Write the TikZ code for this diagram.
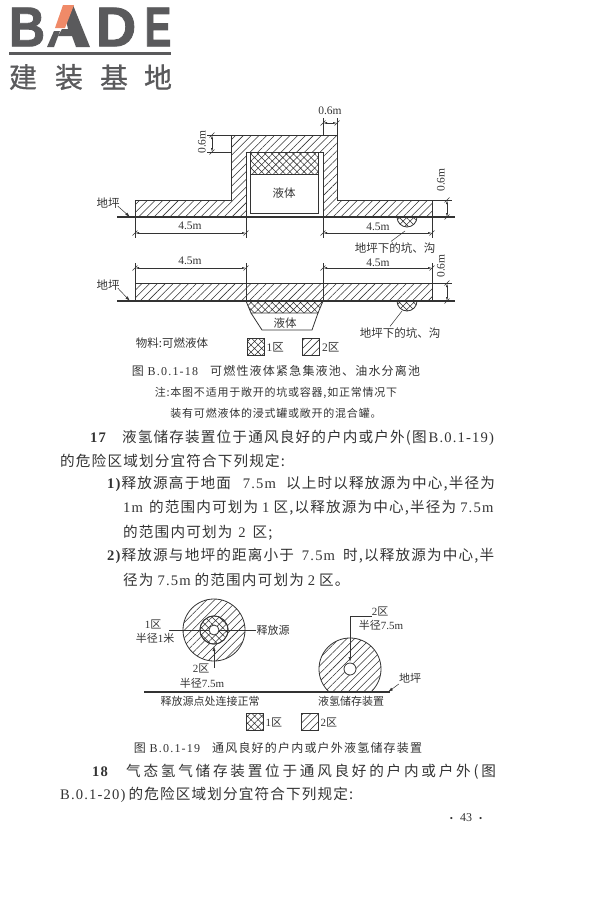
\documentclass[tikz,border=0pt]{standalone}
\usepackage{fontspec}
\usepackage{xcolor}
\setmainfont{Liberation Serif}
\newfontfamily\cjk{Noto Sans CJK SC}
\newfontfamily\cjkbody{Noto Sans CJK SC}[LetterSpace=8]
\newfontfamily\cjkwide{Noto Sans CJK SC}[LetterSpace=19]
\newfontfamily\cjkcap{Noto Sans CJK SC}[LetterSpace=10]
\newfontfamily\cjknote{Noto Sans CJK SC}[LetterSpace=7]
\newfontfamily\latbody{Liberation Serif}[LetterSpace=8]
\newfontfamily\latcap{Liberation Serif}[LetterSpace=10]
\newfontfamily\logofont{Liberation Sans Bold}[FakeBold=1.6]
\newfontfamily\logocjk{Noto Sans CJK SC}[FakeBold=0.8]
\usetikzlibrary{patterns.meta, arrows.meta}
\definecolor{inkgray}{gray}{0.2}
\definecolor{logogray}{HTML}{5A5A5C}
\definecolor{logoorange}{HTML}{F08A68}
\newcommand{\lat}[1]{{\rmfamily #1}}
\newcommand{\blat}[1]{{\latbody #1}}
\newcommand{\clat}[1]{{\latcap #1}}
\newcommand{\gap}[1]{\hspace{#1pt}}
\tikzset{every node/.style={text=inkgray, inner sep=0pt, font=\cjk\fontsize{11.5}{13}\selectfont}}
\tikzset{zonetwo/.style={pattern={Lines[angle=45,distance=5.5pt,line width=0.55pt]}, pattern color=inkgray}}
\tikzset{zoneone/.style={pattern={Hatch[angle=45,distance=5pt,line width=0.55pt]}, pattern color=inkgray}}
\tikzset{wall/.style={draw=inkgray, line width=0.8pt}}
\tikzset{floorline/.style={draw=inkgray, line width=1.2pt}}
\tikzset{leader/.style={draw=inkgray, line width=0.5pt}}
\tikzset{arrowline/.style={leader, -{Latex[length=5pt,width=3pt]}}}
\tikzset{dimen/.style={leader, {Latex[length=4pt,width=2pt]}-{Latex[length=4pt,width=2pt]}}}
\tikzset{legendbox/.style={draw=inkgray, line width=0.8pt, minimum width=17pt, minimum height=17pt}}
\tikzset{dimtext/.style={font=\rmfamily\fontsize{11.5}{13}\selectfont}}
\tikzset{smalltext/.style={font=\cjk\fontsize{11}{13}\selectfont}}
\tikzset{caption/.style={font=\cjkcap\fontsize{12}{14}\selectfont}}
\tikzset{notetext/.style={font=\cjknote\fontsize{11}{13}\selectfont}}
\tikzset{bodytext/.style={anchor=west, font=\cjkbody\fontsize{14.6}{17}\selectfont}}
\tikzset{logoletter/.style={text=logogray, font=\logofont\fontsize{56}{56}\selectfont}}
\tikzset{logochar/.style={text=logogray, font=\logocjk\fontsize{28}{29}\selectfont}}
\newcommand{\tick}[1]{\draw[leader] ([shift={(-2.5,2.5)}]#1) -- ([shift={(2.5,-2.5)}]#1);}
\newcommand{\dimline}[2]{\draw[dimen] (#1) -- (#2); \tick{#1} \tick{#2}}
\begin{document}
\begin{tikzpicture}[x=1pt,y=-1pt]
    \useasboundingbox (0,0) rectangle (600,900);
    % Logo
    \node [logoletter, xscale=0.9] (logob) at (27,27) {B};
    \fill [logogray] (73,5) -- (90,47) -- (76,47) -- (72,36) -- (58,36) -- (62,29) -- (68,29) -- (66,20) -- cycle;
    \fill [logogray] (54,31) -- (60,31) -- (54,47) -- (47,47) -- cycle;
    \fill [logoorange] (63,5) -- (74,5) -- (65,28) -- (55,28) -- cycle;
    \node [logoletter] (logod) at (116,27) {D};
    \node [logoletter, xscale=0.72] (logoe) at (158,27) {E};
    \fill [logogray] (9,52) rectangle (171,54.5);
    \node [logochar] (logo1) at (23,77) {建};
    \node [logochar] (logo2) at (69,77) {装};
    \node [logochar] (logo3) at (114,77) {基};
    \node [logochar] (logo4) at (158,77) {地};

    % Figure 18, upper section
    \draw [wall, zonetwo] (135,217) -- (135,200) -- (231,200) -- (231,135) -- (337,135) -- (337,200) -- (432,200) -- (432,217) -- (323,217) -- (323,152) -- (246,152) -- (246,217) -- cycle;
    \draw [wall, zoneone] (250,152) rectangle (318,174);
    \draw [wall] (250,174) rectangle (318,213);
    \draw [wall, zoneone] (397,217) arc (180:0:10);
    \draw [floorline] (117,217) -- (455,217);
    \node (liquida) at (284,193) {液体};
    \node (grounda) at (108,203) {地坪};
    \coordinate (grounda end) at (130,217);
    \draw [arrowline] (grounda.east) ++(-2,3) -- (grounda end);
    \coordinate (dima1) at (135,233); \coordinate (dima2) at (246,233);
    \coordinate (dima3) at (323,233); \coordinate (dima4) at (432,233);
    \dimline{dima1}{dima2}
    \dimline{dima3}{dima4}
    \node [dimtext] (lena1) at (190,226) {4.5m};
    \node [dimtext] (lena2) at (378,227) {4.5m};
    \coordinate (dima5) at (323,123); \coordinate (dima6) at (337,123);
    \dimline{dima5}{dima6}
    \node [dimtext] (lena3) at (330,111) {0.6m};
    \coordinate (dima7) at (212,135); \coordinate (dima8) at (212,152);
    \dimline{dima7}{dima8}
    \node [dimtext, rotate=90] (lena4) at (202,142) {0.6m};
    \coordinate (dima9) at (447,200); \coordinate (dima10) at (447,217);
    \dimline{dima9}{dima10}
    \node [dimtext, rotate=90] (lena5) at (441,180) {0.6m};
    \draw [leader] (337,135) -- (337,118);
    \draw [leader] (323,135) -- (323,118);
    \draw [leader] (231,135) -- (207,135);
    \draw [leader] (231,152) -- (207,152);
    \draw [leader] (432,200) -- (452,200);
    \draw [leader] (135,217) -- (135,238);
    \draw [leader] (246,217) -- (246,238);
    \draw [leader] (323,217) -- (323,238);
    \draw [leader] (432,217) -- (432,238);
    \node (pita) at (395,248) {地坪下的坑、沟};
    \coordinate (pita end) at (405,231);
    \draw [leader] (pita.north) ++(-4,-1) -- (pita end);

    % Figure 18, lower section
    \draw [wall, zonetwo] (135,283) rectangle (432,301);
    \draw [leader] (246,283) -- (246,301);
    \draw [leader] (323,283) -- (323,301);
    \draw [wall, zoneone] (246,301) -- (323,301) -- (318,313) -- (251,313) -- cycle;
    \draw [wall] (251,313) -- (262,330) -- (312,330) -- (318,313);
    \draw [wall, zoneone] (397,301) arc (180:0:10);
    \draw [floorline] (117,301) -- (455,301);
    \node (liquidb) at (285,323) {液体};
    \node (groundb) at (108,285) {地坪};
    \coordinate (groundb end) at (130,301);
    \draw [arrowline] (groundb.east) ++(-2,3) -- (groundb end);
    \coordinate (dimb1) at (135,268); \coordinate (dimb2) at (246,268);
    \coordinate (dimb3) at (323,268); \coordinate (dimb4) at (432,268);
    \dimline{dimb1}{dimb2}
    \dimline{dimb3}{dimb4}
    \draw [leader] (135,283) -- (135,263);
    \draw [leader] (246,283) -- (246,263);
    \draw [leader] (323,283) -- (323,263);
    \draw [leader] (432,283) -- (432,263);
    \node [dimtext] (lenb1) at (190,261) {4.5m};
    \node [dimtext] (lenb2) at (378,263) {4.5m};
    \coordinate (dimb5) at (447,283); \coordinate (dimb6) at (447,301);
    \dimline{dimb5}{dimb6}
    \draw [leader] (432,283) -- (452,283);
    \node [dimtext, rotate=90] (lenb3) at (441,266) {0.6m};
    \node (pitb) at (400,333) {地坪下的坑、沟};
    \coordinate (pitb end) at (402,311);
    \draw [leader] (pitb.north) ++(-10,-1) -- (pitb end);
    \node (material) at (172,343) {物料:可燃液体};
    \node [legendbox, zoneone] (legaone) at (255.5,347) {};
    \node [anchor=west] (legaonetext) at ([xshift=2pt]legaone.east) {\lat{1}区};
    \node [legendbox, zonetwo] (legatwo) at (311,347) {};
    \node [anchor=west] (legatwotext) at ([xshift=2pt]legatwo.east) {\lat{2}区};
    \node [caption] (capa) at (276,371) {图 \clat{B.0.1-18}\quad 可燃性液体紧急集液池、油水分离池};
    \node [notetext] (notea) at (276,393) {注:本图不适用于敞开的坑或容器,如正常情况下};
    \node [notetext] (noteb) at (276,413) {装有可燃液体的浸式罐或敞开的混合罐。};

    % Body text
    \node [bodytext] (line1) at (90,438) {\textbf{\blat{17}}\gap{15}液氢储存装置位于通风良好的户内或户外(图\gap{2}\blat{B.0.1-19)}};
    \node [bodytext] (line2) at (60,461) {的危险区域划分宜符合下列规定:};
    \node [bodytext] (line3) at (107,484) {\textbf{\blat{1)}}释放源高于地面\gap{12}\blat{7.5m}\gap{10}以上时以释放源为中心,半径为};
    \node [bodytext] (line4) at (123,508) {\blat{1m}\gap{6}的范围内可划为\gap{4}\blat{1}\gap{4}区,以释放源为中心,半径为\gap{4}\blat{7.5m}};
    \node [bodytext] (line5) at (123,533) {的范围内可划为\gap{6}\blat{2}\gap{7}区;};
    \node [bodytext] (line6) at (107,556) {\textbf{\blat{2)}}释放源与地坪的距离小于\gap{8}\blat{7.5m}\gap{8}时,以释放源为中心,半};
    \node [bodytext] (line7) at (123,580) {径为\gap{4}\blat{7.5m}\gap{4}的范围内可划为\gap{4}\blat{2}\gap{4}区。};

    % Figure 19
    \draw [wall, zonetwo] (214,630) circle (31);
    \draw [wall, fill=white] (214,630) circle (14);
    \draw [wall, zoneone] (214,630) circle (14);
    \draw [wall, fill=white] (214,630) circle (5);
    \begin{scope}
        \clip (300,620) rectangle (400,692);
        \draw [wall, zonetwo] (350,669) circle (31);
    \end{scope}
    \draw [wall, fill=white] (350,669) circle (6);
    \draw [floorline] (144,692) -- (390,692);
    \node [smalltext] (zoneleft) at (153,624) {\lat{1}区};
    \node [smalltext] (radiusleft) at (155,638) {半径\lat{1}米};
    \coordinate (zoneleft end) at (209,630);
    \draw [leader] (zoneleft.east) ++(8,6) -- (zoneleft end);
    \node [smalltext] (source) at (273,630) {释放源};
    \coordinate (source end) at (219,630);
    \draw [leader] (source.west) -- (source end);
    \node [smalltext] (zonemid) at (201,668) {\lat{2}区};
    \node [smalltext] (radiusmid) at (202,683) {半径\lat{7.5m}};
    \coordinate (zonemid start) at (214,668);
    \coordinate (zonemid end) at (214,646);
    \draw [arrowline] (zonemid start) -- (zonemid end);
    \node [smalltext] (zoneright) at (380,611) {\lat{2}区};
    \node [smalltext] (radiusright) at (381,625) {半径\lat{7.5m}};
    \coordinate (zoneright end) at (350,662);
    \draw [arrowline] (zoneright.west) ++(0,5) -| (zoneright end);
    \node [smalltext] (groundc) at (410,678) {地坪};
    \coordinate (groundc end) at (388,692);
    \draw [arrowline] (groundc.west) ++(0,6) -- (groundc end);
    \node [smalltext] (normal) at (210,701) {释放源点处连接正常};
    \node [smalltext] (storage) at (351,701) {液氢储存装置};
    \node [legendbox, zoneone] (legbone) at (254.5,722) {};
    \node [smalltext, anchor=west] (legbonetext) at ([xshift=2pt]legbone.east) {\lat{1}区};
    \node [legendbox, zonetwo] (legbtwo) at (309.5,722) {};
    \node [smalltext, anchor=west] (legbtwotext) at ([xshift=2pt]legbtwo.east) {\lat{2}区};
    \node [caption] (capb) at (278,748) {图 \clat{B.0.1-19}\quad 通风良好的户内或户外液氢储存装置};

    % Last paragraph
    \node [bodytext] (line8) at (92,772) {\textbf{\blat{18}}\gap{17}{\cjkwide 气态氢气储存装置位于通风良好的户内或户外(图}};
    \node [bodytext] (line9) at (60,795) {\blat{B.0.1-20)}\gap{3}的危险区域划分宜符合下列规定:};
    \node [font=\rmfamily\fontsize{12}{13}\selectfont] (pageno) at (466,818) {{\fontsize{9}{9}\selectfont •}\gap{7}43\gap{7}{\fontsize{9}{9}\selectfont •}};
\end{tikzpicture}
\end{document}
